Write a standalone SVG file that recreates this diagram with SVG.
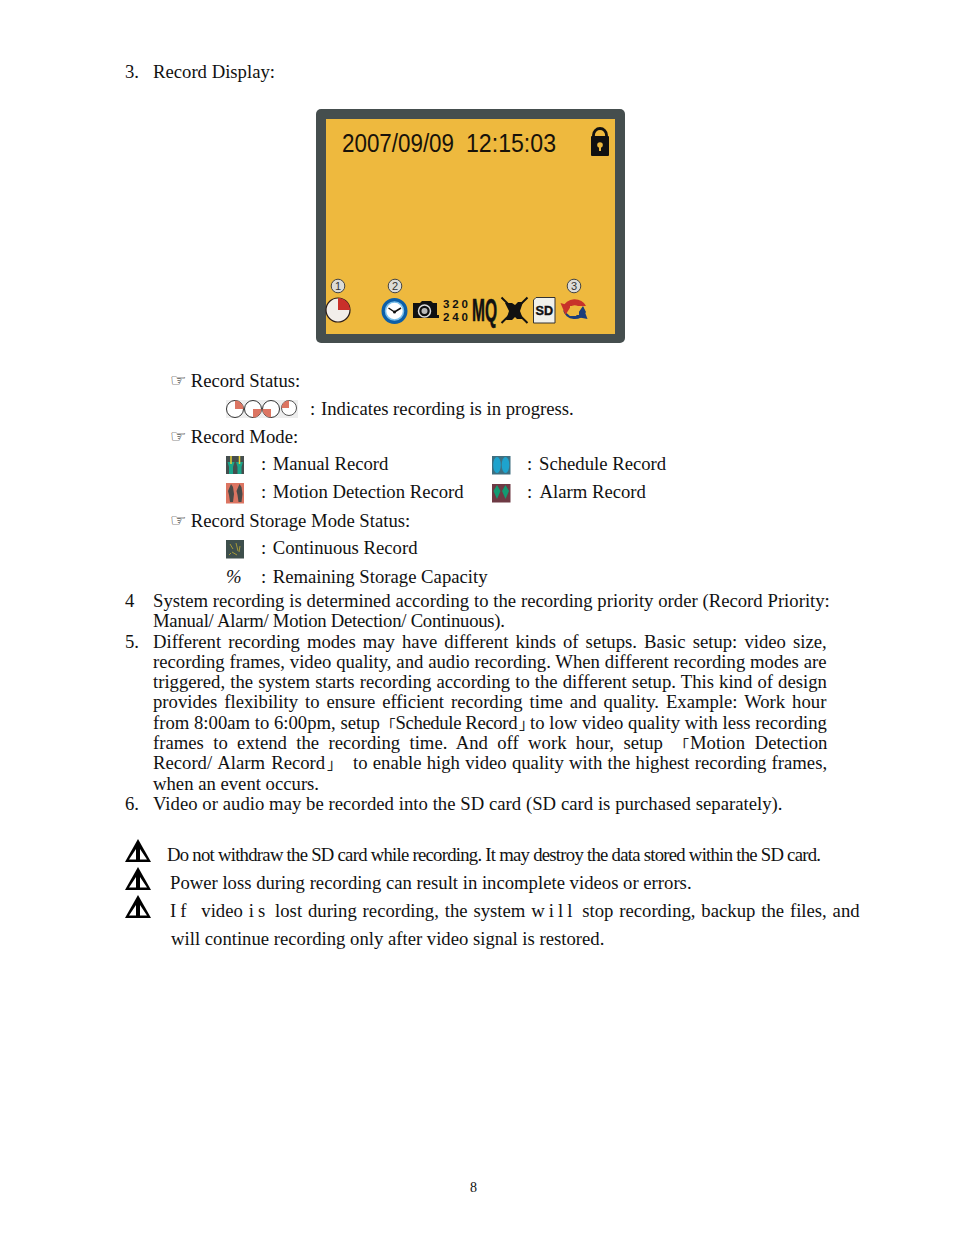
<svg xmlns="http://www.w3.org/2000/svg" width="954" height="1235" viewBox="0 0 954 1235">
<defs>
<style>
text{font-family:"Liberation Serif","Times New Roman",serif;font-size:18.7px;fill:#111}
.f{font-family:"DejaVu Sans",sans-serif;font-size:17px;fill:#000}
.c{font-family:"Noto Sans CJK SC","Noto Sans CJK JP",sans-serif;font-size:15px;fill:#222}
.d{font-family:"Liberation Sans",Arial,sans-serif;font-size:25.5px;fill:#17120a}
.n{font-family:"Liberation Sans",Arial,sans-serif;font-size:11px;fill:#333;text-anchor:middle}
.b{font-family:"Liberation Sans",Arial,sans-serif;font-weight:bold;font-size:11.5px;fill:#111}
</style>
<g id="warn"><path d="M13 0 L0 23 H26 Z" fill="#000"/><path d="M11 10 L4 20.500 H11 Z M15 10 L22 20.500 H15 Z" fill="#fff"/></g>
<g id="cnum"><circle r="6.800" fill="#dcdcd8" stroke="#444" stroke-width="1"/></g>
</defs>
<rect width="954" height="1235" fill="#fff"/>

<g id="heading"><text x="125" y="78">3.</text><text x="153" y="78">Record Display:</text></g>

<g id="screen">
<rect x="316" y="109" width="309" height="234" rx="5" fill="#454e4e"/>
<rect x="326" y="119" width="289" height="215" fill="#eeb93e"/>
<text class="d" x="342" y="152" textLength="112" lengthAdjust="spacingAndGlyphs">2007/09/09</text>
<text class="d" x="466" y="152" textLength="90" lengthAdjust="spacingAndGlyphs">12:15:03</text>
<g id="lock"><path d="M593.500 137 V135 a6.500 6.500 0 0 1 13 0 V137" fill="none" stroke="#111" stroke-width="2.800"/><rect x="591" y="136" width="18" height="20" rx="1" fill="#111"/><circle cx="600" cy="145" r="2.800" fill="#eeb93e"/><rect x="599" y="146" width="2" height="5" fill="#eeb93e"/></g>
<g transform="translate(338 286)"><use href="#cnum"/><text class="n" y="4">1</text></g>
<g transform="translate(395 286)"><use href="#cnum"/><text class="n" y="4">2</text></g>
<g transform="translate(574 286)"><use href="#cnum"/><text class="n" y="4">3</text></g>
<g id="pie"><circle cx="338" cy="310" r="12" fill="#f2eeea" stroke="#2a1c18" stroke-width="1.200"/><path d="M338 310 V298 A12 12 0 0 1 350 310 Z" fill="#c9302a"/></g>
<g id="clock"><circle cx="394.500" cy="311" r="11" fill="#fff" stroke="#0d5fa8" stroke-width="4"/><circle cx="394.500" cy="311" r="9" fill="none" stroke="#7cc0ea" stroke-width="1.500"/><path d="M394.500 312 L388.500 308 M394.500 312 L401 308" stroke="#111" stroke-width="1.500" fill="none"/><circle cx="394.500" cy="312" r="1.500" fill="#111"/></g>
<g id="camera"><path d="M413 303 H420 L422 301 H431 L433 303 H437 V315 H439 V318 H413 Z" fill="#111"/><circle cx="424.500" cy="311" r="6" fill="#111" stroke="#ddd" stroke-width="1.500"/><circle cx="424.500" cy="311" r="3" fill="#bbb"/></g>
<text class="b" x="443" y="308" textLength="25">320</text>
<text class="b" x="443" y="320.500" textLength="25">240</text>
<text x="472" y="321" textLength="25" lengthAdjust="spacingAndGlyphs" stroke="#111" stroke-width=".6" style="font-family:'Liberation Sans',Arial,sans-serif;font-weight:bold;font-size:32px">MQ</text>
<g id="mute"><path d="M501.500 297.500 L527.500 323 M527.500 297.500 L501.500 323" stroke="#111" stroke-width="2"/><path d="M505 303 H512 L515 305 L518 302 H523 L520 311 L523 319 H517 L515 317 L512 320 H506 L509 311 Z" fill="#111"/></g>
<g id="sd"><path d="M536 297.500 H555 V323 H533.500 V300 Z" fill="#f1f1ea" stroke="#333" stroke-width="1"/><text x="535.500" y="315" textLength="17.500" lengthAdjust="spacingAndGlyphs" stroke="#111" stroke-width=".4" style="font-family:'Liberation Sans',Arial,sans-serif;font-weight:bold;font-size:12.500px">SD</text></g>
<g id="rotate"><path d="M563 310 A12 11 0 0 0 586 312 L583 306 L576 316 H570 Z" fill="#1c3d7a"/><path d="M563 307 A12 10 0 0 1 586 306 L578 306 A7 6 0 0 0 570 307 Z" fill="#c8322a"/><path d="M560.500 303 L571 306 L565.500 315 Z" fill="#c8322a"/><path d="M587.500 319 L577 317 L583 307 Z" fill="#1c3d7a"/><path d="M570 306 H578 L579 309 L574 312 H579 V315 H570 L574 309 H570 Z" fill="#eeb93e"/></g>
</g>

<g id="status">
<text class="f" x="170" y="386" textLength="16.500" lengthAdjust="spacingAndGlyphs">☞</text><text x="190.700" y="387">Record Status:</text>
<g id="rec-frames"><rect x="226" y="400" width="72" height="18" fill="#eeeeee"/>
<circle cx="235" cy="409" r="8.500" fill="#fff" stroke="#333"/><path d="M235 409 V400.500 A8.500 8.500 0 0 1 243.500 409 Z" fill="#dc7562"/>
<circle cx="253" cy="409" r="8.500" fill="#fff" stroke="#333"/><path d="M253 409 H261.500 A8.500 8.500 0 0 1 253 417.500 Z" fill="#dc7562"/>
<circle cx="271" cy="409" r="8.500" fill="#fff" stroke="#333"/><path d="M271 409 V417.500 A8.500 8.500 0 0 1 262.500 409 Z" fill="#dc7562"/>
<circle cx="289" cy="408" r="7.500" fill="#fff" stroke="#555"/><path d="M289 408 H281.500 A7.500 7.500 0 0 1 289 400.500 Z" fill="#dc7562"/></g>
<text x="310" y="415">:</text><text x="321" y="415">Indicates recording is in progress.</text>
</g>

<g id="mode">
<text class="f" x="170" y="442" textLength="16.500" lengthAdjust="spacingAndGlyphs">☞</text><text x="190.700" y="443">Record Mode:</text>
<g id="ic-manual"><rect x="226" y="456" width="18" height="18" fill="#454e4e"/><path d="M227.500 462 h7 l-1.500 5 v7 h-4 v-7 z M236 462 h7 l-1.500 5 v7 h-4 v-7 z" fill="#1aa58a"/><path d="M231 456 v8 M239.500 456 v8" stroke="#e3cf3a" stroke-width="1.500"/></g>
<text x="261" y="470">:</text><text x="272.700" y="470">Manual Record</text>
<g id="ic-schedule"><rect x="492" y="456" width="18.500" height="18.500" fill="#3f6f80"/><ellipse cx="497" cy="465" rx="3.800" ry="8" fill="#1ea3cd"/><ellipse cx="505.500" cy="465" rx="3.800" ry="8" fill="#1ea3cd"/></g>
<text x="527" y="470">:</text><text x="539" y="470">Schedule Record</text>
<g id="ic-motion"><rect x="226" y="483" width="18" height="20.500" fill="#dc7562"/><path d="M231 484 l2 3 l1 7 l-1 8 h-3 l-1 -7 l-1 -4 z M239.500 484 l2 3 l1 7 l-1 8 h-3 l-1 -7 l-1 -4 z" fill="#4a4a48"/></g>
<text x="261" y="498">:</text><text x="272.700" y="498">Motion Detection Record</text>
<g id="ic-alarm"><rect x="492" y="484" width="18.500" height="18.500" fill="#6e3a44"/><path d="M497 485 l3.500 6 l-3.500 8 l-3.500 -8 z M505.500 485 l3.500 6 l-3.500 8 l-3.500 -8 z" fill="#129a72"/></g>
<text x="527" y="498">:</text><text x="539.500" y="498">Alarm Record</text>
</g>

<g id="storage">
<text class="f" x="170" y="526" textLength="16.500" lengthAdjust="spacingAndGlyphs">☞</text><text x="190.700" y="527">Record Storage Mode Status:</text>
<g id="ic-cont"><rect x="226" y="540" width="18" height="18.500" fill="#3e4f4c"/><path d="M230 544 l3 5 M236 543 l2 8 M232 552 l5 3 M240 546 l-1 6 M229 555 l2 -2" stroke="#a59a3a" stroke-width="1"/></g>
<text x="261" y="554">:</text><text x="272.700" y="554">Continuous Record</text>
<text x="226" y="583" font-style="italic">%</text>
<text x="261" y="583">:</text><text x="272.700" y="583">Remaining Storage Capacity</text>
</g>

<g id="body">
<text x="125" y="607">4</text><text x="153" y="607" word-spacing=".15">System recording is determined according to the recording priority order (Record Priority:</text>
<text x="153" y="627" textLength="352" lengthAdjust="spacing">Manual/ Alarm/ Motion Detection/ Continuous).</text>
<text x="125" y="648">5.</text><text x="153" y="648" word-spacing="2.400">Different recording modes may have different kinds of setups. Basic setup: video size,</text>
<text x="153" y="668" word-spacing=".17">recording frames, video quality, and audio recording. When different recording modes are</text>
<text x="153" y="688" word-spacing=".43">triggered, the system starts recording according to the different setup. This kind of design</text>
<text x="153" y="708" word-spacing="2.270">provides flexibility to ensure efficient recording time and quality. Example: Work hour</text>
<text x="153" y="729">from 8:00am to 6:00pm, setup</text><text class="c" x="380.500" y="731">「</text><text x="395.500" y="729" textLength="122" lengthAdjust="spacing">Schedule Record</text><text class="c" x="519" y="729">」</text><text x="530" y="729">to low video quality with less recording</text>
<text x="153" y="749" word-spacing="4.700">frames to extend the recording time. And off work hour, setup</text><text class="c" x="674" y="751">「</text><text x="690" y="749" word-spacing="5">Motion Detection</text>
<text x="153" y="769" word-spacing="1.500">Record/ Alarm Record</text><text class="c" x="327" y="769">」</text><text x="353" y="769" word-spacing=".55">to enable high video quality with the highest recording frames,</text>
<text x="153" y="790">when an event occurs.</text>
<text x="125" y="810">6.</text><text x="153" y="810" word-spacing=".15">Video or audio may be recorded into the SD card (SD card is purchased separately).</text>
</g>

<g id="warnings">
<use href="#warn" x="125" y="839"/>
<text x="167" y="861" textLength="654" lengthAdjust="spacing">Do not withdraw the SD card while recording. It may destroy the data stored within the SD card.</text>
<use href="#warn" x="125" y="867"/>
<text x="170" y="889">Power loss during recording can result in incomplete videos or errors.</text>
<use href="#warn" x="125" y="895"/>
<text x="170" y="917" word-spacing="1.200"><tspan letter-spacing="4">If</tspan> <tspan dx="5">video</tspan> <tspan letter-spacing="4">is</tspan> lost during recording, the system <tspan letter-spacing="4">will</tspan> stop recording, backup the files, and</text>
<text x="171" y="945">will continue recording only after video signal is restored.</text>
</g>

<text id="page" x="470" y="1192" style="font-size:14px">8</text>
</svg>
